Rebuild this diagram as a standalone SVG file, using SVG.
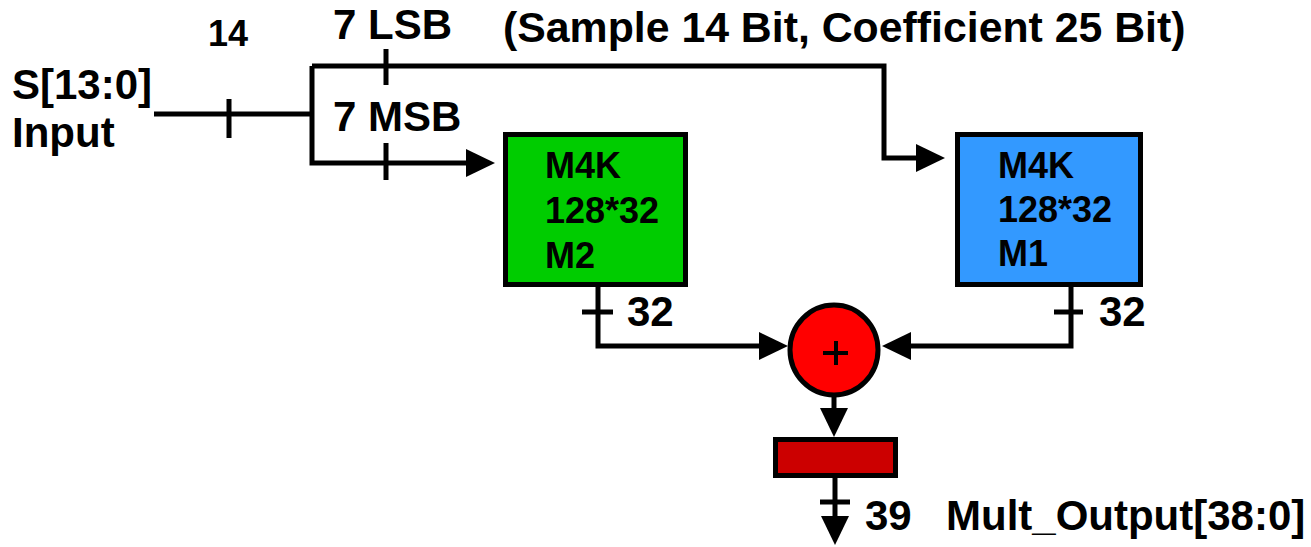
<svg xmlns="http://www.w3.org/2000/svg" width="1311" height="547" viewBox="0 0 1311 547">
<style>
text{font-family:"Liberation Sans",Arial,sans-serif;font-weight:bold;fill:#000}
.big{font-size:42px}
.box{font-size:36px}
.w{fill:none;stroke:#000;stroke-width:5;stroke-linejoin:miter}
.blk{stroke:#000;stroke-width:5}
</style>
<defs>
<marker id="arr" markerUnits="userSpaceOnUse" markerWidth="30" markerHeight="30" refX="0" refY="15" orient="auto" viewBox="0 0 30 30">
<path d="M0,1 L29,15 L0,29 z" fill="#000"/>
</marker>
</defs>
<rect width="1311" height="547" fill="#fff"/>
<g id="labels">
<text class="big" x="503" y="42" style="font-size:42.8px">(Sample 14 Bit, Coefficient 25 Bit)</text>
<text x="208" y="46" style="font-size:36px">14</text>
<text class="big" x="333" y="39">7 LSB</text>
<text class="big" x="333" y="131">7 MSB</text>
<text class="big" x="12" y="99">S[13:0]</text>
<text class="big" x="12" y="147">Input</text>
<text class="big" x="627" y="326">32</text>
<text class="big" x="1099" y="326">32</text>
<text class="big" x="865" y="530">39</text>
<text class="big" x="946" y="530">Mult_Output[38:0]</text>
</g>
<g id="connectors" class="w">
<path d="M154,114 H312"/>
<path d="M312,66 V163 H466" marker-end="url(#arr)"/>
<path d="M312,66 H884 V158 H916" marker-end="url(#arr)"/>
<path d="M229,99 V138 M386,49 V85 M386,143 V180"/>
<path d="M598,287 V346 H759" marker-end="url(#arr)"/>
<path d="M582,312 H613"/>
<path d="M1071,287 V346 H911" marker-end="url(#arr)"/>
<path d="M1054,312 H1083"/>
<path d="M834,397 V408" marker-end="url(#arr)"/>
<path d="M835,478 V516" marker-end="url(#arr)"/>
<path d="M820,502 H850"/>
</g>
<g id="m2">
<rect class="blk" x="505.5" y="134.5" width="180" height="150" fill="#00CC00"/>
<text class="box" x="545" y="178">M4K</text>
<text class="box" x="545" y="223">128*32</text>
<text class="box" x="545" y="268">M2</text>
</g>
<g id="m1">
<rect class="blk" x="957.5" y="134.5" width="183" height="150" fill="#3399FF"/>
<text class="box" x="998" y="178">M4K</text>
<text class="box" x="998" y="222">128*32</text>
<text class="box" x="998" y="266">M1</text>
</g>
<g id="adder">
<ellipse class="blk" cx="834" cy="350" rx="44" ry="45" fill="#FF0000"/>
<path d="M823,353 H848 M836,341 V365" stroke="#000" stroke-width="4" fill="none"/>
</g>
<g id="register">
<rect class="blk" x="775.5" y="439.5" width="120" height="36" fill="#CC0000"/>
</g>
</svg>
